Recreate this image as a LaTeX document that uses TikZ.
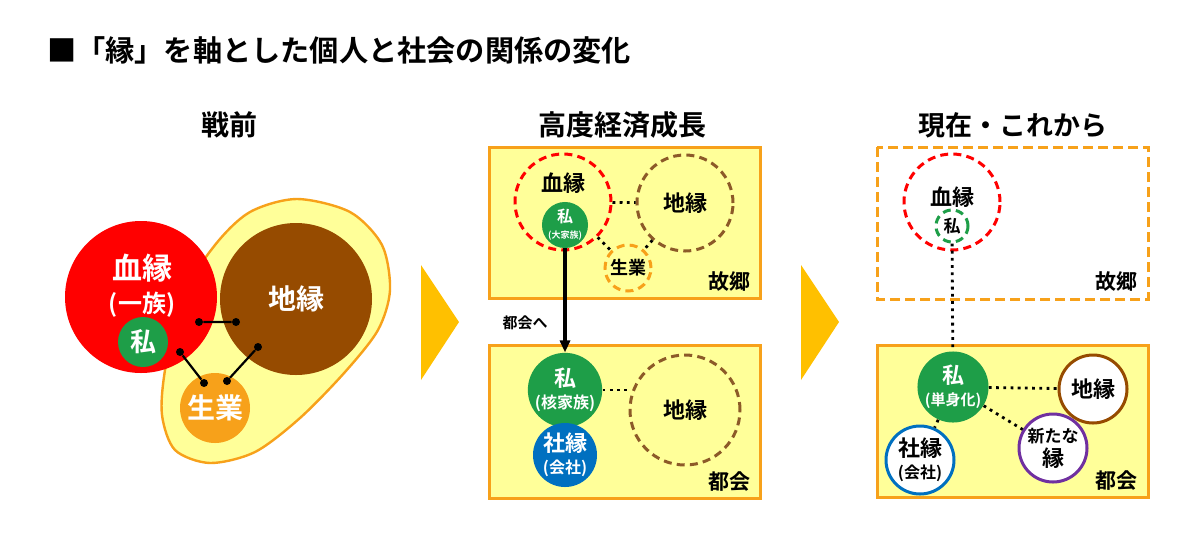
\documentclass[tikz,border=0pt]{standalone}
\usepackage{fontspec}
\setmainfont{Noto Sans CJK JP}[BoldFont={Noto Sans CJK JP Bold}]
\usetikzlibrary{arrows.meta}
\definecolor{lightyellow}{HTML}{FFFF99}
\definecolor{boxorange}{HTML}{F7A11A}
\definecolor{chevron}{HTML}{FFC000}
\definecolor{bloodred}{HTML}{FF0000}
\definecolor{leafgreen}{HTML}{1E9E48}
\definecolor{earthbrown}{HTML}{964B00}
\definecolor{dashbrown}{HTML}{8C5A28}
\definecolor{workorange}{HTML}{F7A11A}
\definecolor{companyblue}{HTML}{0070C0}
\definecolor{newpurple}{HTML}{7030A0}

\begin{document}
\begin{tikzpicture}[x=0.5pt, y=-0.5pt,
            fs/.style = {font=\bfseries\fontsize{#1}{#1}\selectfont},
            disc/.style = {circle, inner sep=0pt, minimum size=#1pt},
            ring/.style = {disc=#1, line width=1.5pt, dash pattern=on 4pt off 2.6pt},
            hollow/.style = {disc=#1, line width=1.5pt, fill=white},
            panel/.style = {draw=boxorange, line width=1.5pt, fill=lightyellow},
            dotline/.style = {line width=1.4pt, dash pattern=on 1.4pt off 2.2pt},
            knot/.style = {circle, fill=black, inner sep=0pt, minimum size=4pt},
            ]
            \fill[white] (0,0) rectangle (1200,548);

            \node[fs=14.6, anchor=west] (title) at (40,50) {■「縁」を軸とした個人と社会の関係の変化};
            \node[fs=14] (prewar)  at (229,125)  {戦前};
            \node[fs=14] (growth)  at (622,125)  {高度経済成長};
            \node[fs=13.5] (present) at (1013,125) {現在・これから};

            \fill[chevron] (421,265) -- (459,322) -- (421,380) -- cycle;
            \fill[chevron] (801,265) -- (839,322) -- (801,380) -- cycle;

            % prewar
            \draw[draw=boxorange, line width=1.2pt, fill=lightyellow] plot[smooth cycle] coordinates
                {(297,199) (350,212) (382,245) (390,290) (378,330) (345,372) (300,418)
                 (255,452) (210,463) (175,450) (162,415) (165,370) (180,300) (215,245) (250,212)};
            \node[disc=76, fill=bloodred]   (ketsu)   at (141,297) {};
            \node[disc=76, fill=earthbrown, fs=14, text=white] (chien) at (296,299) {地縁};
            \node[disc=35, fill=workorange, fs=14, text=white] (seigyo) at (215,408) {生業};
            \node[disc=25, fill=leafgreen, fs=13, text=white]  (watashi) at (143,342) {私};
            \node[fs=15, text=white, align=center] (ketsuT) at (142,286) {血縁\\[1.5pt]{\fontsize{12}{12}\selectfont(一族)}};

            \node[knot] (k1) at (199,322) {};
            \node[knot] (k2) at (236,322) {};
            \node[knot] (k3) at (180,352) {};
            \node[knot] (k4) at (204,383) {};
            \node[knot] (k5) at (258,347) {};
            \node[knot] (k6) at (227,381) {};
            \draw[line width=1.1pt]
                (k1) -- (k2)
                (k3) -- (k4)
                (k5) -- (k6);

            % high growth
            \draw[panel] (489,147) rectangle (760,298);
            \draw[panel] (489,345) rectangle (760,498);

            \node[ring=48, draw=bloodred]   (ketsu1)  at (563,202) {};
            \node[fs=11]                    (ketsu1T) at (563,183) {血縁};
            \node[disc=22, fill=leafgreen, text=white, fs=8, align=center] (watashi1) at (565,225) {私\\{\fontsize{4.5}{4.5}\selectfont(大家族)}};
            \node[ring=48, draw=dashbrown, fs=11] (chien1)  at (685,203) {地縁};
            \node[ring=23, draw=workorange, fs=9] (seigyo1) at (628,268) {生業};
            \node[fs=10.5] (home1) at (729,282) {故郷};

            \node[disc=32, fill=leafgreen, text=white, fs=11, align=center]   (watashi2) at (565,390) {私\\{\fontsize{8}{8}\selectfont(核家族)}};
            \node[disc=32, fill=companyblue, text=white, fs=11, align=center] (shaen2)   at (565,455) {社縁\\{\fontsize{8}{8}\selectfont(会社)}};
            \node[ring=55, draw=dashbrown, fs=11] (chien2) at (685,410) {地縁};
            \node[fs=10.5] (city2)  at (729,482) {都会};
            \node[fs=7.5]  (toward) at (525,323) {都会へ};

            \draw[dotline] (ketsu1) -- (chien1);
            \draw[dotline] (ketsu1) -- (seigyo1);
            \draw[dotline] (chien1) -- (seigyo1);
            \draw[dotline] (watashi2.east) -- (watashi2.east -| chien2.west);
            \draw[line width=1.6pt, -{Triangle[length=6pt, width=5pt]}] (watashi1) -- (watashi2);

            % present
            \draw[draw=boxorange, line width=1.5pt, dash pattern=on 5pt off 2.5pt] (877,147) rectangle (1148,299);
            \draw[panel] (877,345) rectangle (1148,497);

            \node[ring=48, draw=bloodred]         (ketsu3)   at (952,202) {};
            \node[fs=11]                          (ketsu3T)  at (952,197) {血縁};
            \node[ring=16, draw=leafgreen, fs=8.5] (watashi3a) at (952,226) {私};
            \node[fs=10.5] (home3) at (1116,282) {故郷};

            \node[disc=32, fill=leafgreen, text=white, fs=11, align=center] (watashi3) at (953,387) {私\\{\fontsize{7.5}{7.5}\selectfont(単身化)}};
            \node[hollow=34, draw=earthbrown, fs=11] (chien3) at (1093,389) {地縁};
            \node[hollow=34, draw=newpurple, fs=11, align=center] (arata3) at (1053,448) {{\fontsize{8.5}{8.5}\selectfont 新たな}\\[1pt]縁};
            \node[hollow=34, draw=companyblue, fs=11, align=center] (shaen3) at (920,460) {社縁\\{\fontsize{8}{8}\selectfont(会社)}};
            \node[fs=10.5] (city3) at (1116,481) {都会};

            \draw[dotline] (watashi3a) -- (watashi3);
            \draw[dotline] (watashi3) -- (chien3);
            \draw[dotline] (watashi3) -- (arata3);
            \draw[dotline] (watashi3) -- (shaen3);

        \end{tikzpicture}
\end{document}
